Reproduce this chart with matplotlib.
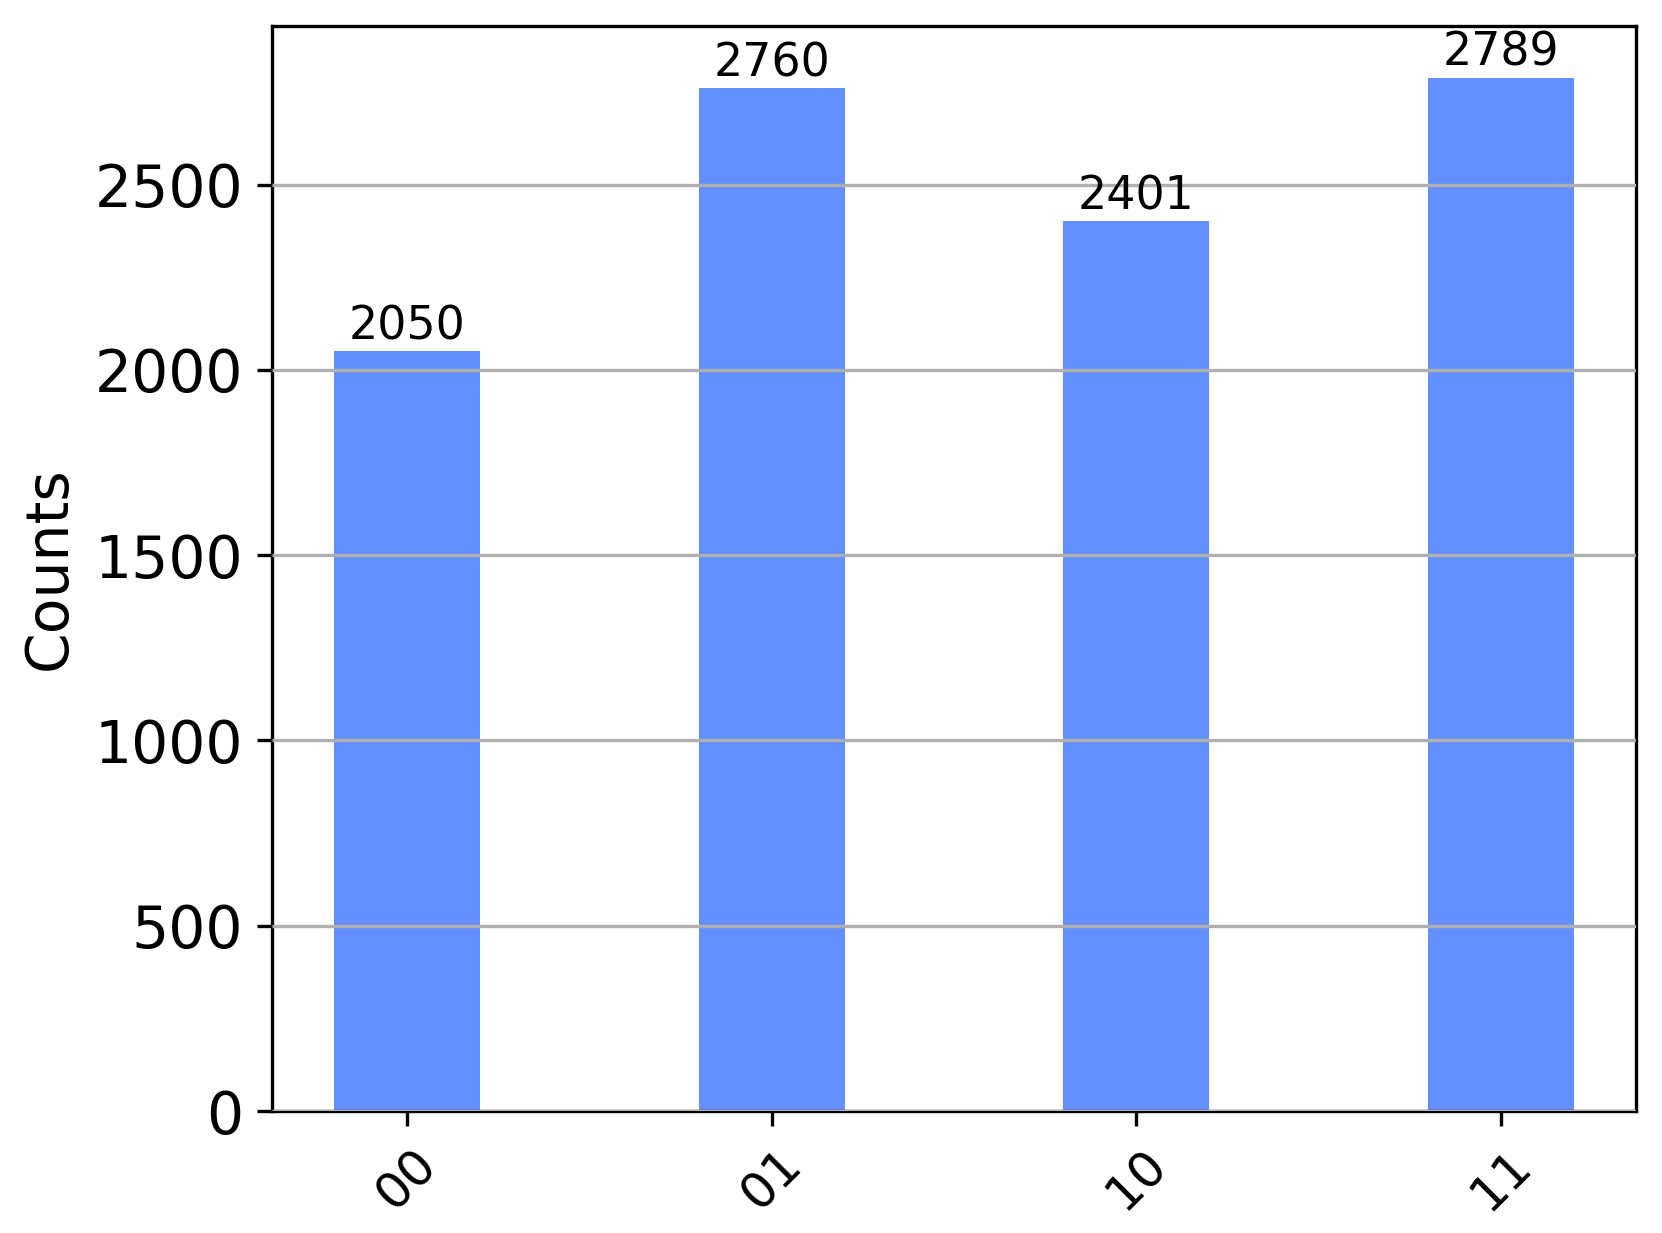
import numpy as np
import matplotlib
matplotlib.use('Agg')
import matplotlib.pyplot as plt

# 测量结果
labels = ['00', '01', '10', '11']
counts = [2050, 2760, 2401, 2789]
bar_color = '#648fff'

fig = plt.figure(figsize=(1662 / 300, 1233 / 300), dpi=300)
ax = fig.add_axes([0.1637, 0.0989, 0.8207, 0.8801])

x = np.arange(len(labels))
bars = ax.bar(x, counts, width=0.4, color=bar_color, zorder=1)
ax.bar_label(bars, labels=[str(c) for c in counts], fontsize=11, padding=0.5)

ax.set_xlim(-0.37, len(labels) - 1 + 0.37)
ax.set_ylim(0, max(counts) * 1.05)
ax.set_xticks(x)
ax.set_xticklabels(labels, fontsize=12, rotation=45)
ax.tick_params(axis='y', labelsize=14)
ax.set_ylabel('Counts', fontsize=14)
ax.yaxis.grid(True, color='#b0b0b0', linewidth=0.8, zorder=2)
ax.set_axisbelow(False)

fig.savefig('out.png', dpi=300)
